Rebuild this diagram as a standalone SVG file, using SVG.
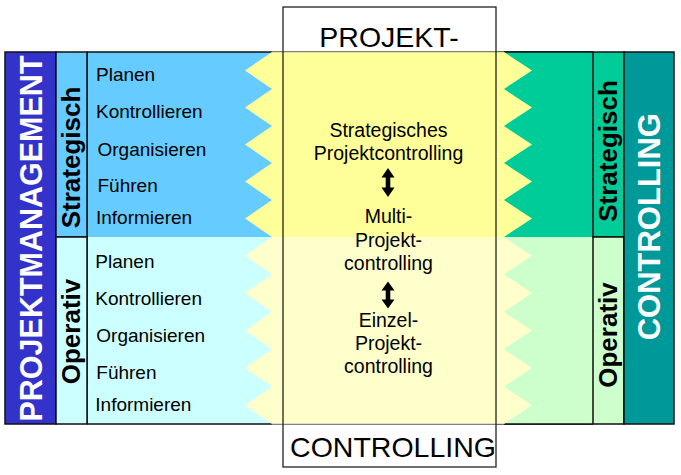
<svg xmlns="http://www.w3.org/2000/svg" width="681" height="475" viewBox="0 0 681 475">
<style>
text{font-family:"Liberation Sans",Arial,sans-serif;}
.box{stroke:#111;stroke-width:1.5;}
.vt{font-weight:bold;font-size:26px;fill:#000;text-anchor:middle;}
.big{font-weight:bold;fill:#fff;text-anchor:middle;}
.act{font-size:19px;fill:#000;}
.ctr{font-size:19.5px;fill:#000;text-anchor:middle;}
.ttl{font-size:28.5px;fill:#000;text-anchor:middle;}
</style>
<rect width="681" height="475" fill="#fff"/>
<g id="frame-bg">
<rect x="283" y="7" width="213" height="460" fill="#fff"/>
</g>
<g id="band-left">
<rect x="87" y="52" width="190" height="185" fill="#66ccff"/>
<rect x="87" y="237" width="190" height="187" fill="#ccffff"/>
<line x1="87" y1="52" x2="593" y2="52" stroke="#111" stroke-width="1.5"/>
<line x1="87" y1="424" x2="593" y2="424" stroke="#111" stroke-width="1.5"/>
<line x1="87" y1="52" x2="87" y2="424" stroke="#111" stroke-width="1.5"/>
</g>
<g id="band-right">
<rect x="496" y="52" width="97" height="185" fill="#00cc99"/>
<rect x="496" y="237" width="97" height="187" fill="#ccffcc"/>
<line x1="496" y1="52" x2="593" y2="52" stroke="#111" stroke-width="1.5"/>
<line x1="496" y1="424" x2="593" y2="424" stroke="#111" stroke-width="1.5"/>
</g>
<g id="center-area">
<polygon fill="#ffff99" points="272,52 504,52 532,70.5 504,89 532,107.5 504,126 532,144.5 504,163 532,181.5 504,200 532,218.5 504,237 272,237 245,218.5 272,200 245,181.5 272,163 245,144.5 272,126 245,107.5 272,89 245,70.5"/>
<polygon fill="#ffffcc" points="272,237 504,237 532,255.7 504,274.4 532,293.1 504,311.8 532,330.5 504,349.2 532,367.9 504,386.6 532,405.3 504,424 272,424 245,405.3 272,386.6 245,367.9 272,349.2 245,330.5 272,311.8 245,293.1 272,274.4 245,255.7"/>
<line x1="272" y1="52" x2="504" y2="52" stroke="#b8b8a0" stroke-width="1"/>
<line x1="272" y1="424" x2="504" y2="424" stroke="#b8b8b8" stroke-width="1"/>
</g>
<g id="frame">
<rect x="283" y="7" width="213" height="460" fill="none" stroke="#222" stroke-width="1.3"/>
<text class="ttl" x="389" y="47">PROJEKT-</text>
<text class="ttl" x="393" y="457">CONTROLLING</text>
</g>
<g id="projektmanagement">
<rect class="box" x="5" y="52" width="51" height="372" fill="#3333cc"/>
<text class="big" font-size="30.5" transform="translate(42,238.5) rotate(-90)">PROJEKTMANAGEMENT</text>
</g>
<g id="pm-strategisch">
<rect class="box" x="56" y="52" width="31" height="185" fill="#66ccff"/>
<text class="vt" transform="translate(80,157.5) rotate(-90)">Strategisch</text>
</g>
<g id="pm-operativ">
<rect class="box" x="56" y="237" width="31" height="187" fill="#ccffff"/>
<text class="vt" transform="translate(80,331.5) rotate(-90)">Operativ</text>
</g>
<g id="activities-strategisch">
<text class="act" x="96" y="80.7">Planen</text>
<text class="act" x="96" y="118.3">Kontrollieren</text>
<text class="act" x="97.5" y="155.7">Organisieren</text>
<text class="act" x="97.5" y="192.3">Führen</text>
<text class="act" x="96" y="224">Informieren</text>
</g>
<g id="activities-operativ">
<text class="act" x="95.3" y="268.3">Planen</text>
<text class="act" x="95.3" y="305">Kontrollieren</text>
<text class="act" x="96.3" y="341.7">Organisieren</text>
<text class="act" x="96.3" y="379.3">Führen</text>
<text class="act" x="95.3" y="410.7">Informieren</text>
</g>
<g id="strategisches-pc">
<text class="ctr" x="388.5" y="136.7">Strategisches</text>
<text class="ctr" x="388.5" y="160">Projektcontrolling</text>
</g>
<g id="multi-pc">
<text class="ctr" x="388.5" y="223">Multi-</text>
<text class="ctr" x="388.5" y="246.7">Projekt-</text>
<text class="ctr" x="388.5" y="270">controlling</text>
</g>
<g id="einzel-pc">
<text class="ctr" x="388.5" y="326.7">Einzel-</text>
<text class="ctr" x="388.5" y="350">Projekt-</text>
<text class="ctr" x="388.5" y="373">controlling</text>
</g>
<g id="connectors" fill="#000">
<path d="M388,168 L394.5,177.5 L390.3,177.5 L390.3,187.5 L394.5,187.5 L388,197 L381.5,187.5 L385.7,187.5 L385.7,177.5 L381.5,177.5 Z"/>
<path d="M388,281.5 L394.5,290.5 L390.3,290.5 L390.3,299.5 L394.5,299.5 L388,308.5 L381.5,299.5 L385.7,299.5 L385.7,290.5 L381.5,290.5 Z"/>
</g>
<g id="ctrl-strategisch">
<rect class="box" x="593" y="52" width="31" height="185" fill="#00cc99"/>
<text class="vt" transform="translate(617,151) rotate(-90)">Strategisch</text>
</g>
<g id="ctrl-operativ">
<rect class="box" x="593" y="237" width="31" height="187" fill="#ccffcc"/>
<text class="vt" transform="translate(617,335) rotate(-90)">Operativ</text>
</g>
<g id="controlling">
<rect class="box" x="624" y="52" width="50" height="372" fill="#009999"/>
<text class="big" font-size="31" transform="translate(660,226.7) rotate(-90)">CONTROLLING</text>
</g>
</svg>
